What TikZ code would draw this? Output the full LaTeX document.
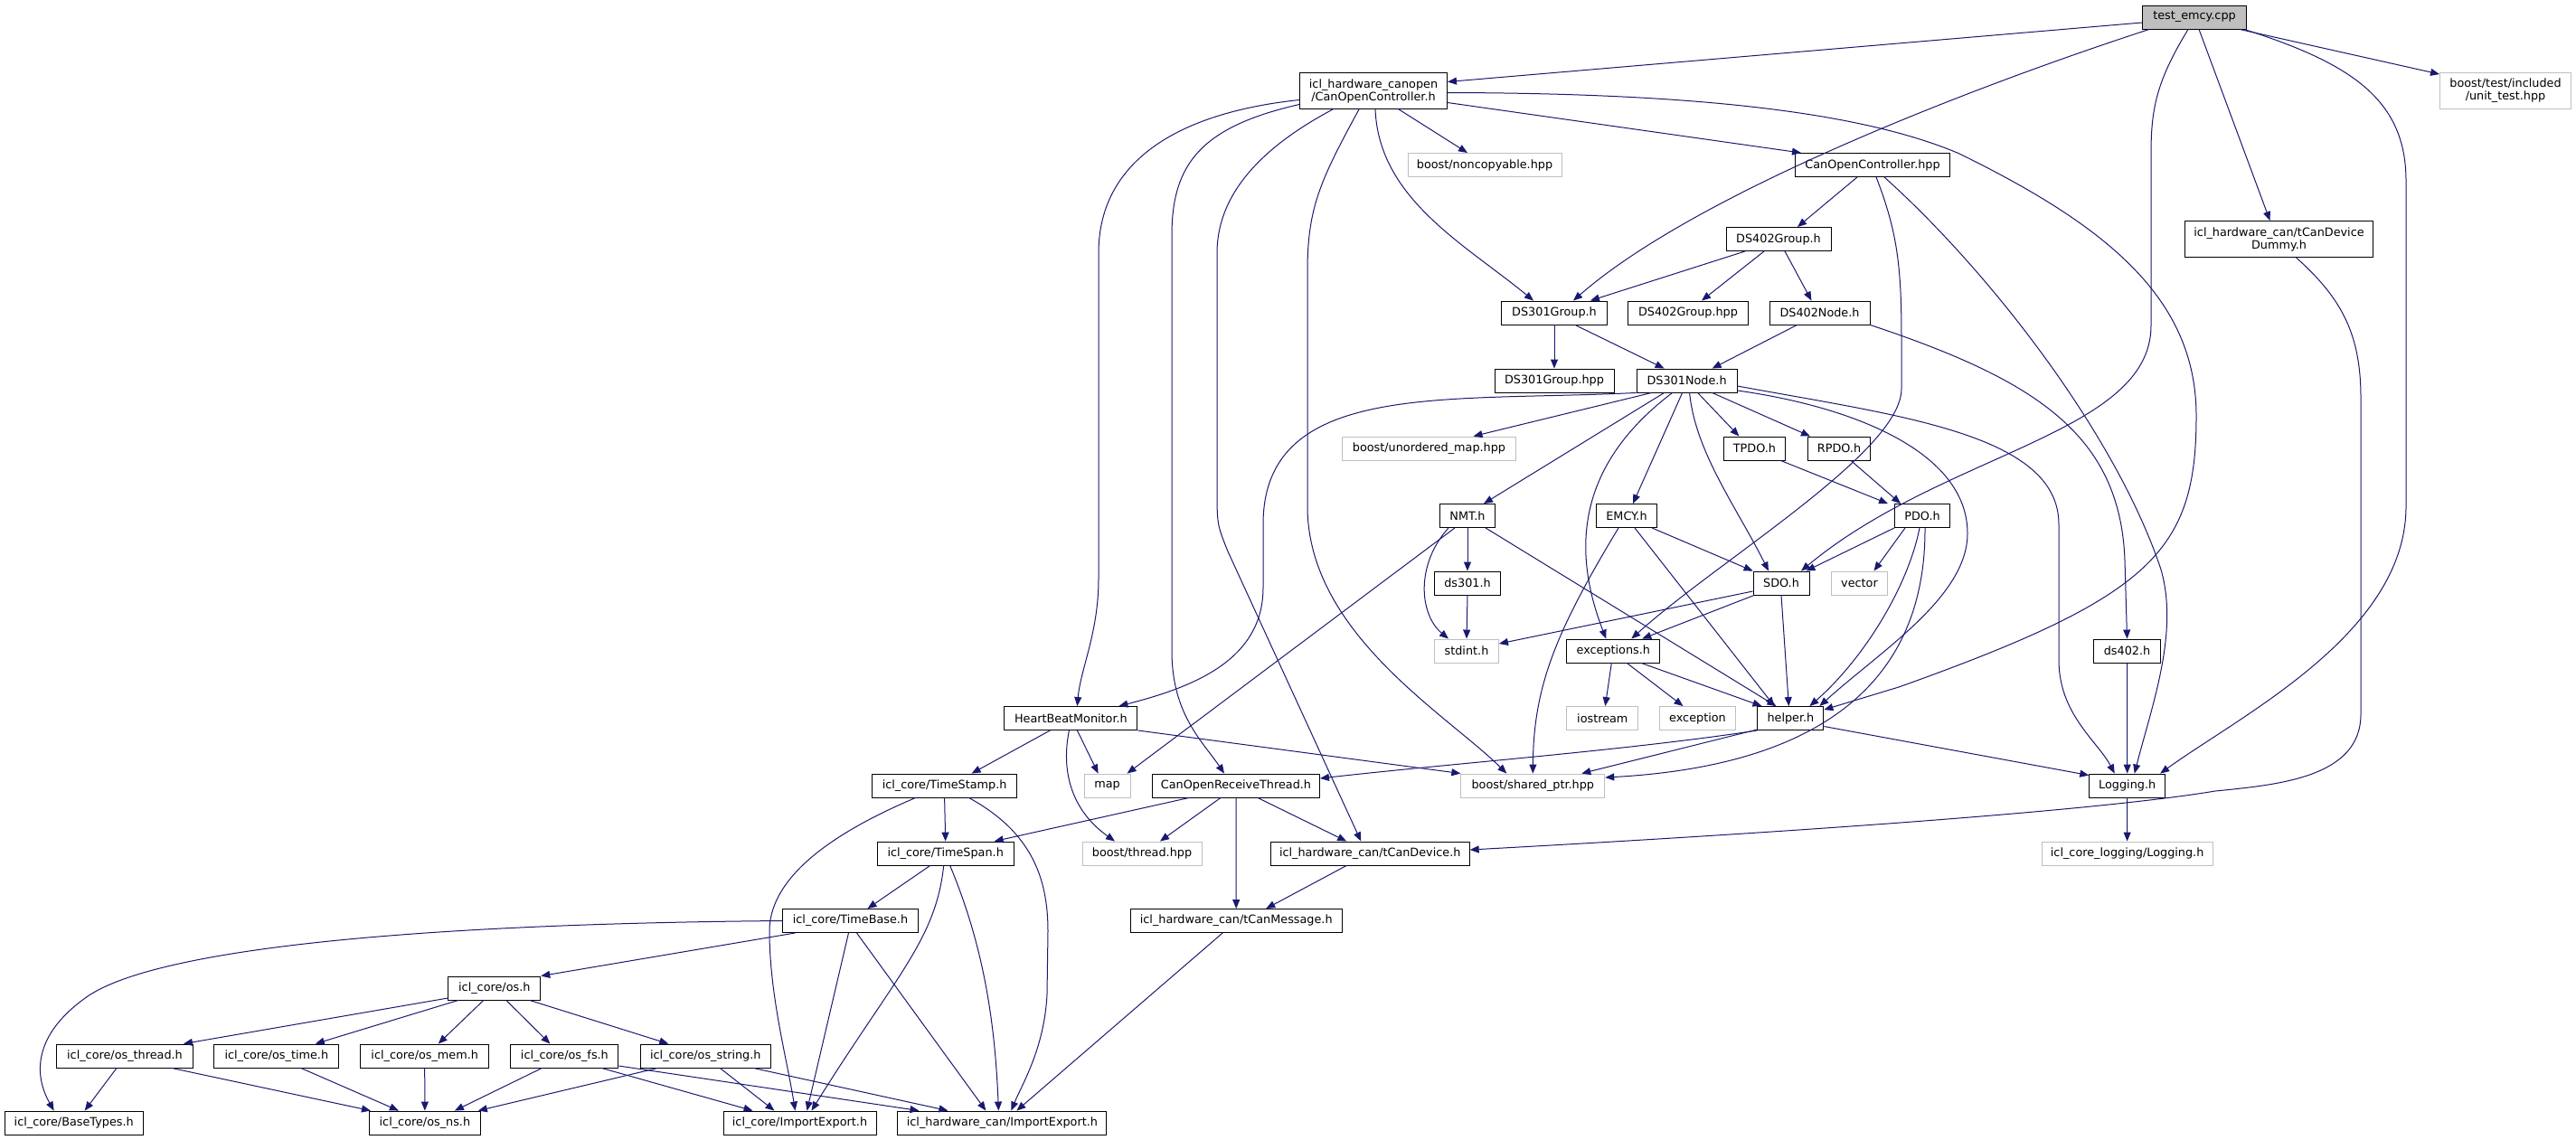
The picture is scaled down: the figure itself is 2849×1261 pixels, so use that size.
\documentclass[tikz,border=0pt]{standalone}
\usepackage{fontspec}
\usepackage{tikz}
\usetikzlibrary{arrows.meta}
\newfontfamily\doxfont{DejaVu Sans}
\definecolor{edgeblue}{HTML}{191970}
\definecolor{extgray}{HTML}{BFBFBF}
\tikzset{
  hdr/.style={draw=black, fill=white, line width=0.9pt, rectangle, inner sep=0pt,
    minimum height=26pt, align=center, font=\doxfont\fontsize{12.8}{14}\selectfont},
  ext/.style={hdr, draw=extgray},
  twoline/.style={minimum height=40pt},
  dep/.style={draw=edgeblue, line width=1pt, -{Triangle[length=10pt,width=8pt]}}
}
\begin{document}
\begin{tikzpicture}[x=1pt,y=-1pt]
    \useasboundingbox (0,0) rectangle (2849,1261);
    % headers
    \node[hdr, fill=extgray, minimum width=115pt] (test) at (2427,19) {test\_emcy.cpp};
    \node[hdr, twoline, minimum width=163pt] (cocH) at (1519,100.5) {icl\_hardware\_canopen\\/CanOpenController.h};
    \node[ext, twoline, minimum width=145pt] (unittest) at (2771,100.5) {boost/test/included\\/unit\_test.hpp};
    \node[ext, minimum width=170pt] (noncopy) at (1642,182.5) {boost/noncopyable.hpp};
    \node[hdr, minimum width=171pt] (cocHpp) at (2071,182.5) {CanOpenController.hpp};
    \node[hdr, minimum width=116pt] (ds402grp) at (1967,264.5) {DS402Group.h};
    \node[hdr, twoline, minimum width=208pt] (dummy) at (2520.5,264.5) {icl\_hardware\_can/tCanDevice\\Dummy.h};
    \node[hdr, minimum width=117pt] (ds301grp) at (1719,346) {DS301Group.h};
    \node[hdr, minimum width=133pt] (ds402grphpp) at (1867,346) {DS402Group.hpp};
    \node[hdr, minimum width=111pt] (ds402node) at (2012.5,346) {DS402Node.h};
    \node[hdr, minimum width=132pt] (ds301grphpp) at (1719,421) {DS301Group.hpp};
    \node[hdr, minimum width=111pt] (ds301node) at (1865.6,421) {DS301Node.h};
    \node[ext, minimum width=192pt] (umap) at (1580.5,496) {boost/unordered\_map.hpp};
    \node[hdr, minimum width=68pt] (tpdo) at (1940.4,496) {TPDO.h};
    \node[hdr, minimum width=69pt] (rpdo) at (2034,496) {RPDO.h};
    \node[hdr, minimum width=61pt] (nmt) at (1623,570.5) {NMT.h};
    \node[hdr, minimum width=67pt] (emcy) at (1799,570.5) {EMCY.h};
    \node[hdr, minimum width=61pt] (pdo) at (2126,570.5) {PDO.h};
    \node[hdr, minimum width=73pt] (ds301) at (1623,645) {ds301.h};
    \node[hdr, minimum width=62pt] (sdo) at (1970,645) {SDO.h};
    \node[ext, minimum width=62pt] (vector) at (2056.5,645) {vector};
    \node[ext, minimum width=71pt] (stdint) at (1622,720) {stdint.h};
    \node[hdr, minimum width=103pt] (exceptions) at (1784.3,720) {exceptions.h};
    \node[hdr, minimum width=74pt] (ds402) at (2352.5,720) {ds402.h};
    \node[ext, minimum width=79pt] (iostream) at (1772.3,794.5) {iostream};
    \node[ext, minimum width=84pt] (exception) at (1877.5,794.5) {exception};
    \node[hdr, minimum width=73pt] (helper) at (1980.4,794.5) {helper.h};
    \node[hdr, minimum width=147pt] (hbm) at (1184.4,794.5) {HeartBeatMonitor.h};
    \node[hdr, minimum width=160pt] (timestamp) at (1044.6,869) {icl\_core/TimeStamp.h};
    \node[ext, minimum width=51pt] (map) at (1224.6,869) {map};
    \node[hdr, minimum width=185pt] (corecv) at (1367,869) {CanOpenReceiveThread.h};
    \node[ext, minimum width=159pt] (sharedptr) at (1695.3,869) {boost/shared\_ptr.hpp};
    \node[hdr, minimum width=84pt] (logging) at (2352.7,869) {Logging.h};
    \node[hdr, minimum width=151pt] (timespan) at (1045.7,944) {icl\_core/TimeSpan.h};
    \node[ext, minimum width=132pt] (thread) at (1263,944) {boost/thread.hpp};
    \node[hdr, minimum width=220pt] (tcandev) at (1515.2,944) {icl\_hardware\_can/tCanDevice.h};
    \node[ext, minimum width=189pt] (corelog) at (2352.6,944) {icl\_core\_logging/Logging.h};
    \node[hdr, minimum width=150pt] (timebase) at (940.5,1018.5) {icl\_core/TimeBase.h};
    \node[hdr, minimum width=234pt] (tcanmsg) at (1367.2,1018.5) {icl\_hardware\_can/tCanMessage.h};
    \node[hdr, minimum width=102pt] (osh) at (546.8,1093) {icl\_core/os.h};
    \node[hdr, minimum width=151pt] (osthread) at (138,1168) {icl\_core/os\_thread.h};
    \node[hdr, minimum width=138pt] (ostime) at (305.8,1168) {icl\_core/os\_time.h};
    \node[hdr, minimum width=142pt] (osmem) at (469.7,1168) {icl\_core/os\_mem.h};
    \node[hdr, minimum width=119pt] (osfs) at (624.4,1168) {icl\_core/os\_fs.h};
    \node[hdr, minimum width=144pt] (osstring) at (780.3,1168) {icl\_core/os\_string.h};
    \node[hdr, minimum width=153pt] (basetypes) at (81.7,1242) {icl\_core/BaseTypes.h};
    \node[hdr, minimum width=123pt] (osns) at (469.9,1242) {icl\_core/os\_ns.h};
    \node[hdr, minimum width=169pt] (coreie) at (884.5,1242) {icl\_core/ImportExport.h};
    \node[hdr, minimum width=231pt] (hwie) at (1108.4,1242) {icl\_hardware\_can/ImportExport.h};

    % test_emcy.cpp
    \draw[dep] ([yshift=-6pt]test.west) -- ([yshift=10pt]cocH.east);
    \draw[dep] ([xshift=-50pt]test.south) .. controls (2200,90) and (1880,210) .. ([xshift=21pt]ds301grp.north);
    \draw[dep] ([xshift=-7pt]test.south) .. controls (2385,90) and (2379,120) .. (2379,170) -- (2379,360)
        .. controls (2379,480) and (2150,500) .. ([xshift=22pt]sdo.north);
    \draw[dep] ([xshift=5pt]test.south) -- ([xshift=-10pt]dummy.north);
    \draw[dep] ([xshift=50pt]test.south) -- ([yshift=-2pt]unittest.north west);
    \draw[dep] ([xshift=55pt]test.south) .. controls (2600,70) and (2661,110) .. (2661,200) -- (2661,560)
        .. controls (2661,700) and (2480,790) .. ([xshift=-6pt]logging.north east);

    % CanOpenController.h
    \draw[dep] ([yshift=-10pt]cocH.west) .. controls (1300,125) and (1215,180) .. (1215,280) -- (1215,640)
        .. controls (1215,700) and (1195,740) .. ([xshift=7pt]hbm.north);
    \draw[dep] ([yshift=-15pt]cocH.west) .. controls (1330,140) and (1296,180) .. (1296,260) -- (1296,720)
        .. controls (1296,790) and (1330,820) .. ([xshift=-13pt]corecv.north);
    \draw[dep] ([xshift=-45pt]cocH.south) .. controls (1420,150) and (1346,200) .. (1346,280) -- (1346,540)
        .. controls (1346,580) .. (1358,610) -- ([xshift=-10pt]tcandev.north);
    \draw[dep] ([xshift=-16pt]cocH.south) .. controls (1460,200) and (1446,230) .. (1446,300) -- (1446,560)
        .. controls (1446,700) and (1600,790) .. ([xshift=-29pt]sharedptr.north);
    \draw[dep] ([xshift=2pt]cocH.south) .. controls (1525,220) and (1620,270) .. ([xshift=-23pt]ds301grp.north);
    \draw[dep] ([xshift=28pt]cocH.south) -- ([xshift=-19pt]noncopy.north);
    \draw[dep] ([yshift=-13pt]cocH.east) -- ([xshift=-79pt]cocHpp.north);
    \draw[dep] ([yshift=-2pt]cocH.east) .. controls (1850,103) and (2050,120) .. (2167,170)
        .. controls (2330,250) and (2429,330) .. (2429,460)
        .. controls (2429,610) and (2380,660) .. (2100,760) -- ([yshift=-4pt]helper.north east);

    % CanOpenController.hpp
    \draw[dep] ([xshift=-17pt]cocHpp.south) -- ([xshift=21pt]ds402grp.north);
    \draw[dep] ([xshift=4pt]cocHpp.south) .. controls (2100,260) and (2103,300) .. (2103,380) -- (2103,430)
        .. controls (2103,500) and (1900,620) .. ([xshift=20pt]exceptions.north);
    \draw[dep] ([xshift=13pt]cocHpp.south) .. controls (2200,300) and (2340,480) .. (2390,630)
        .. controls (2410,700) and (2380,780) .. ([xshift=8pt]logging.north);

    % groups
    \draw[dep] ([xshift=-37pt]ds402grp.south) -- ([xshift=-19pt]ds301grp.north east);
    \draw[dep] ([xshift=-16pt]ds402grp.south) -- ([xshift=15pt]ds402grphpp.north);
    \draw[dep] ([xshift=7pt]ds402grp.south) -- ([xshift=-9pt]ds402node.north);
    \draw[dep] (ds301grp.south) -- (ds301grphpp.north);
    \draw[dep] ([xshift=23pt]ds301grp.south) -- ([xshift=-25pt]ds301node.north);
    \draw[dep] ([xshift=-25pt]ds402node.south) -- ([xshift=28pt]ds301node.north);
    \draw[dep] (ds402node.south east) .. controls (2250,420) and (2345,480) .. (2350,620) -- (ds402.north);
    \draw[dep] ([xshift=19pt]dummy.south) .. controls (2590,330) and (2611,370) .. (2611,440) -- (2611,790)
        .. controls (2611,860) and (2520,868) .. (2450,875)
        .. controls (2300,900) and (1900,925) .. ([yshift=4pt]tcandev.east);

    % DS301Node.h
    \draw[dep] (ds301node.south west) .. controls (1600,445) and (1397,420) .. (1397,580) -- (1397,650)
        .. controls (1397,730) and (1320,760) .. ([xshift=53pt]hbm.north);
    \draw[dep] ([xshift=-39pt]ds301node.south) -- ([xshift=49pt]umap.north);
    \draw[dep] ([xshift=-25pt]ds301node.south) -- ([xshift=18pt]nmt.north);
    \draw[dep] ([xshift=-16pt]ds301node.south) .. controls (1750,510) and (1735,600) .. ([xshift=-8pt]exceptions.north);
    \draw[dep] ([xshift=-5pt]ds301node.south) -- ([xshift=7pt]emcy.north);
    \draw[dep] ([xshift=3pt]ds301node.south) .. controls (1875,500) and (1920,560) .. ([xshift=-14pt]sdo.north);
    \draw[dep] ([xshift=12pt]ds301node.south) -- ([xshift=-17pt]tpdo.north);
    \draw[dep] ([xshift=28pt]ds301node.south) -- ([xshift=-32pt]rpdo.north);
    \draw[dep] ([yshift=-6pt]ds301node.east) .. controls (2100,460) and (2277,480) .. (2277,580) -- (2277,730)
        .. controls (2277,790) and (2320,820) .. ([xshift=-14pt]logging.north);
    \draw[dep] ([yshift=-11pt]ds301node.east) .. controls (2050,450) and (2176,500) .. (2176,590)
        .. controls (2176,660) and (2080,720) .. ([xshift=-5pt]helper.north east);

    % NMT, EMCY, SDO, PDO
    \draw[dep] (nmt.south) -- (ds301.north);
    \draw[dep] ([xshift=-21pt]nmt.south) .. controls (1565,625) and (1570,680) .. ([xshift=-20pt]stdint.north);
    \draw[dep] ([xshift=20pt]nmt.south) -- ([xshift=-16pt]helper.north);
    \draw[dep] ([xshift=-14pt]nmt.south) -- ([xshift=22pt]map.north);
    \draw[dep] (ds301.south) -- (stdint.north);
    \draw[dep] ([xshift=28pt]emcy.south) -- (sdo.north west);
    \draw[dep] ([xshift=9pt]emcy.south) -- ([xshift=-18pt]helper.north);
    \draw[dep] ([xshift=-9pt]emcy.south) .. controls (1720,700) and (1696,760) .. (sharedptr.north);
    \draw[dep] ([yshift=-9pt]sdo.west) -- ([yshift=8pt]stdint.east);
    \draw[dep] ([xshift=-30pt]sdo.south) -- ([xshift=-20pt]exceptions.north east);
    \draw[dep] (sdo.south) -- ([xshift=-2pt]helper.north);
    \draw[dep] ([xshift=29pt]tpdo.south) -- ([xshift=-7pt]pdo.north west);
    \draw[dep] ([xshift=13pt]rpdo.south) -- ([xshift=7pt]pdo.north west);
    \draw[dep] (pdo.south west) -- ([xshift=-4pt]sdo.north east);
    \draw[dep] ([xshift=-19pt]pdo.south) -- ([xshift=16pt]vector.north);
    \draw[dep] ([xshift=-3pt]pdo.south) .. controls (2110,650) and (2060,730) .. ([xshift=21pt]helper.north);
    \draw[dep] ([xshift=3pt]pdo.south) .. controls (2130,790) and (1960,850) .. ([yshift=9pt]sharedptr.east);

    % exceptions.h, helper.h, logging
    \draw[dep] ([xshift=-2pt]exceptions.south) -- ([xshift=3pt]iostream.north);
    \draw[dep] ([xshift=15pt]exceptions.south) -- ([xshift=-16pt]exception.north);
    \draw[dep] ([xshift=31pt]exceptions.south) -- ([xshift=5pt]helper.north west);
    \draw[dep] (helper.south west) .. controls (1800,830) and (1600,845) .. ([yshift=8pt]corecv.east);
    \draw[dep] ([yshift=1pt]helper.south west) -- ([xshift=54pt]sharedptr.north);
    \draw[dep] ([yshift=-9pt]helper.east) -- ([yshift=-2pt]logging.north west);
    \draw[dep] (ds402.south) -- (logging.north);
    \draw[dep] (logging.south) -- (corelog.north);

    % HeartBeatMonitor.h, CanOpenReceiveThread.h
    \draw[dep] ([xshift=-23pt]hbm.south) -- ([xshift=30pt]timestamp.north);
    \draw[dep] ([xshift=7pt]hbm.south) -- ([xshift=-10pt]map.north);
    \draw[dep] ([xshift=-2pt]hbm.south) .. controls (1172,860) and (1190,900) .. ([xshift=-30pt]thread.north);
    \draw[dep] (hbm.south east) -- (sharedptr.north west);
    \draw[dep] ([xshift=-52pt]corecv.south) -- ([xshift=54pt]timespan.north);
    \draw[dep] ([xshift=-17pt]corecv.south) -- ([xshift=20pt]thread.north);
    \draw[dep] (corecv.south) -- (tcanmsg.north);
    \draw[dep] ([xshift=24pt]corecv.south) -- ([xshift=-26pt]tcandev.north);
    \draw[dep] ([xshift=-26pt]tcandev.south) -- ([xshift=33pt]tcanmsg.north);
    \draw[dep] ([xshift=-15pt]tcanmsg.south) -- ([xshift=16pt]hwie.north);

    % icl_core time
    \draw[dep] (timestamp.south) -- (timespan.north);
    \draw[dep] ([xshift=-32pt]timestamp.south) .. controls (900,930) and (851,980) .. (851,1030)
        .. controls (851,1100) and (870,1170) .. ([xshift=-5pt]coreie.north);
    \draw[dep] ([xshift=27pt]timestamp.south) .. controls (1140,920) and (1159,970) .. (1159,1030) -- (1158,1100)
        .. controls (1155,1160) and (1130,1200) .. ([xshift=10pt]hwie.north);
    \draw[dep] ([xshift=-17pt]timespan.south) -- ([xshift=19pt]timebase.north);
    \draw[dep] ([xshift=-2pt]timespan.south) .. controls (1035,1040) and (990,1080) .. ([xshift=13pt]coreie.north);
    \draw[dep] ([xshift=5pt]timespan.south) .. controls (1085,1040) and (1100,1120) .. ([xshift=-4pt]hwie.north);
    \draw[dep] ([xshift=-61pt]timebase.south) -- (osh.north east);
    \draw[dep] (timebase.west) .. controls (450,1022) and (180,1050) .. (100,1100)
        .. controls (40,1140) and (35,1185) .. ([xshift=-22pt]basetypes.north);
    \draw[dep] ([xshift=-2pt]timebase.south) -- ([xshift=8pt]coreie.north);
    \draw[dep] ([xshift=7pt]timebase.south) -- ([xshift=-18pt]hwie.north);

    % icl_core os
    \draw[dep] ([yshift=-11pt]osh.west) -- ([xshift=-11pt]osthread.north east);
    \draw[dep] ([xshift=-40pt]osh.south) -- ([xshift=43pt]ostime.north);
    \draw[dep] ([xshift=-12pt]osh.south) -- ([xshift=15pt]osmem.north);
    \draw[dep] ([xshift=13pt]osh.south) -- ([xshift=-16pt]osfs.north);
    \draw[dep] ([xshift=39pt]osh.south) -- ([xshift=-41pt]osstring.north);
    \draw[dep] ([xshift=-9pt]osthread.south) -- ([xshift=12pt]basetypes.north);
    \draw[dep] ([xshift=52pt]osthread.south) -- ([xshift=2pt]osns.north west);
    \draw[dep] ([xshift=27pt]ostime.south) -- ([xshift=-29pt]osns.north);
    \draw[dep] (osmem.south) -- (osns.north);
    \draw[dep] ([xshift=-25pt]osfs.south) -- ([xshift=33pt]osns.north);
    \draw[dep] ([xshift=41pt]osfs.south) -- ([xshift=33pt]coreie.north west);
    \draw[dep] ([yshift=-11pt]osfs.east) -- ([xshift=24pt]hwie.north west);
    \draw[dep] ([xshift=-53pt]osstring.south) -- ([xshift=-3pt]osns.north east);
    \draw[dep] ([xshift=16pt]osstring.south) -- ([xshift=-28pt]coreie.north);
    \draw[dep] ([xshift=53pt]osstring.south) -- ([xshift=56pt]hwie.north west);
\end{tikzpicture}
\end{document}
